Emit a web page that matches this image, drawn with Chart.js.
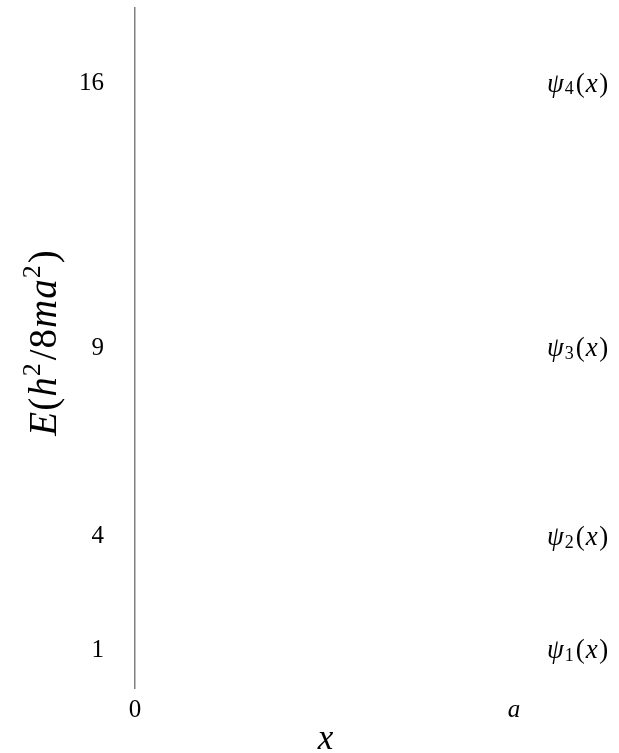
<!DOCTYPE html>
<html>
<head>
<meta charset="utf-8">
<script src="https://cdn.jsdelivr.net/npm/chart.js@4.4.1/dist/chart.umd.min.js"></script>
<style>
  html, body { margin: 0; padding: 0; background: #fff; }
  #wrap { width: 619px; height: 753px; }
</style>
</head>
<body>
<div id="wrap"><canvas id="levels"></canvas></div>
<script>
// Уровни энергии частицы в ящике (в единицах h^2/8ma^2)
const energyLevels = [1, 4, 9, 16];
const stateNumbers = [1, 2, 3, 4];
const xTickValues = [0, 1];
const xTickLabels = ['0', 'a'];
const yRange = [0, 18];

const SERIF = '"Liberation Serif", "DejaVu Serif", serif';

// Рисуем строку из кусочков с разными шрифтами (курсив, индексы)
function drawRich(ctx, parts, x, y, align) {
  let total = 0;
  parts.forEach(p => {
    ctx.font = `${p.italic ? 'italic ' : ''}${p.size}px ${SERIF}`;
    p.w = ctx.measureText(p.t).width;
    total += p.w + (p.gap || 0);
  });
  let cx = align === 'center' ? x - total / 2 : (align === 'right' ? x - total : x);
  parts.forEach(p => {
    ctx.font = `${p.italic ? 'italic ' : ''}${p.size}px ${SERIF}`;
    ctx.fillText(p.t, cx, y + (p.dy || 0));
    cx += p.w + (p.gap || 0);
  });
}

const mathLabels = {
  id: 'mathLabels',
  afterDraw(chart) {
    const { ctx, chartArea, scales } = chart;
    ctx.save();
    ctx.fillStyle = '#000';
    ctx.textBaseline = 'middle';

    // Подписи psi_n(x) справа от каждого уровня
    stateNumbers.forEach((n, i) => {
      const y = scales.y.getPixelForValue(energyLevels[i]) + 1;
      drawRich(ctx, [
        { t: 'ψ', italic: true, size: 27, gap: 1 },
        { t: String(n), size: 18, dy: 5, gap: 2 },
        { t: '(', size: 27, gap: 1 },
        { t: 'x', italic: true, size: 27, gap: 1.5 },
        { t: ')', size: 27 }
      ], chartArea.right + 33, y, 'left');
    });

    // Подпись оси x
    drawRich(ctx, [{ t: 'x', italic: true, size: 35 }],
      (chartArea.left + chartArea.right) / 2 + 1, 740, 'center');

    // Подпись оси y, повернутая
    ctx.translate(46, (chartArea.top + chartArea.bottom) / 2 - 5);
    ctx.rotate(-Math.PI / 2);
    drawRich(ctx, [
      { t: 'E', italic: true, size: 39, gap: 1 },
      { t: '(', size: 39, gap: 1 },
      { t: 'h', italic: true, size: 39, gap: 1 },
      { t: '2', size: 26, dy: -13, gap: 3 },
      { t: '/', size: 39, gap: 1 },
      { t: '8', size: 39, gap: 1 },
      { t: 'm', italic: true, size: 39, gap: 1 },
      { t: 'a', italic: true, size: 39, gap: 1 },
      { t: '2', size: 26, dy: -13, gap: 2 },
      { t: ')', size: 39 }
    ], 0, 0, 'center');
    ctx.restore();
  }
};

const ctx = document.getElementById('levels').getContext('2d');
new Chart(ctx, {
  type: 'scatter',
  data: { datasets: [] },
  options: {
    responsive: true,
    maintainAspectRatio: false,
    animation: false,
    layout: { padding: { top: 8, right: 105, left: 0, bottom: 0 } },
    plugins: { legend: { display: false }, tooltip: { enabled: false } },
    scales: {
      x: {
        type: 'linear',
        min: xTickValues[0],
        max: xTickValues[xTickValues.length - 1],
        afterBuildTicks: s => { s.ticks = xTickValues.map(v => ({ value: v })); },
        afterFit: s => { s.height = 65; s.paddingLeft = 0; s.paddingRight = 0; },
        grid: { display: false, drawTicks: false },
        border: { display: false },
        ticks: {
          padding: 7,
          color: '#000',
          // буквы курсивом, цифры прямо
          font: c => ({
            family: SERIF,
            size: 25,
            style: c.tick && /[a-z]/.test(xTickLabels[xTickValues.indexOf(c.tick.value)]) ? 'italic' : 'normal'
          }),
          callback: (v) => xTickLabels[xTickValues.indexOf(v)]
        }
      },
      y: {
        type: 'linear',
        min: yRange[0],
        max: yRange[1],
        afterBuildTicks: s => { s.ticks = energyLevels.map(v => ({ value: v })); },
        afterFit: s => { s.width = 135; s.paddingTop = 0; s.paddingBottom = 0; },
        grid: { display: false, drawTicks: false },
        border: { display: true, color: '#808080', width: 1.5 },
        ticks: {
          padding: 31,
          color: '#000',
          font: { family: SERIF, size: 25 }
        }
      }
    }
  },
  plugins: [mathLabels]
});
</script>
</body>
</html>
